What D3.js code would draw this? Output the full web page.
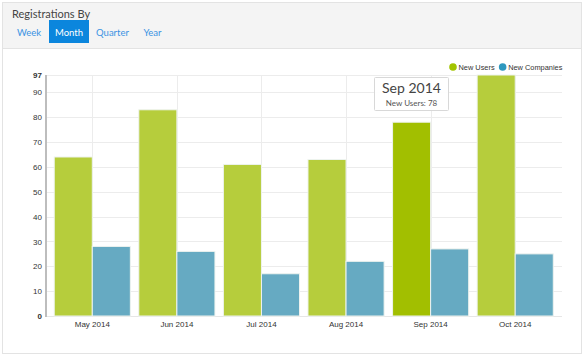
<!DOCTYPE html>
<html><head><meta charset="utf-8">
<script src="https://cdn.jsdelivr.net/npm/d3@7"></script>
<style>
html,body{margin:0;padding:0;background:#fff;}
svg{display:block;}
</style></head>
<body>
<svg id="c" width="585" height="357"></svg>
<script>
const months = ["May 2014","Jun 2014","Jul 2014","Aug 2014","Sep 2014","Oct 2014"];
const newUsers = [64, 83, 61, 63, 78, 97];
const newCompanies = [28, 26, 17, 22, 27, 25];
const yTicks = [0,10,20,30,40,50,60,70,80,90,97];
const seriesNames = ["New Users","New Companies"];
const tabs = ["Week","Month","Quarter","Year"];
const activeTab = "Month";
const hovered = "Sep 2014";

const svg = d3.select("#c");
// panel
svg.append("rect").attr("x",2.5).attr("y",2.5).attr("width",579).attr("height",351)
  .attr("fill","#fff").attr("stroke","#e3e3e3");
svg.append("rect").attr("x",3).attr("y",3).attr("width",578).attr("height",45).attr("fill","#f4f4f4");
svg.append("line").attr("x1",3).attr("x2",581).attr("y1",48.5).attr("y2",48.5).attr("stroke","#e3e3e3");
svg.append("text").attr("x",12).attr("y",18).text("Registrations By")
  .attr("font-family","Lato, 'Open Sans', sans-serif").attr("font-size",11).attr("fill","#444");

// tabs
const tabX = [{x:8,w:42},{x:49,w:40},{x:89,w:47},{x:136,w:33}];
tabs.forEach((t,i)=>{
  const g = svg.append("g");
  if(t===activeTab){
    g.append("rect").attr("x",tabX[i].x).attr("y",20).attr("width",tabX[i].w).attr("height",23).attr("fill","#0b86dd");
  }
  g.append("text").attr("x",tabX[i].x+tabX[i].w/2).attr("y",35.5).attr("text-anchor","middle")
    .attr("font-family","Lato, 'Open Sans', sans-serif").attr("font-size",9.5)
    .attr("fill", t===activeTab?"#fff":"#3b93e3").text(t);
});

// chart
const x0 = d3.scaleBand().domain(months).range([50,557.5]).paddingInner(0.1).paddingOuter(0.05);
const x1 = d3.scaleBand().domain(seriesNames).range([0,x0.bandwidth()]);
const y = d3.scaleLinear().domain([0,97]).range([316,75]);

const grid = svg.append("g");
grid.selectAll("line.h").data(yTicks.filter(d=>d>0)).join("line")
  .attr("x1",46).attr("x2",562).attr("y1",d=>Math.round(y(d))+0.5).attr("y2",d=>Math.round(y(d))+0.5)
  .attr("stroke","#ececec");
grid.selectAll("line.v").data(months).join("line")
  .attr("x1",d=>Math.round(x0(d)+x0.bandwidth()/2)+0.5).attr("x2",d=>Math.round(x0(d)+x0.bandwidth()/2)+0.5)
  .attr("y1",75).attr("y2",316).attr("stroke","#ececec");
svg.append("line").attr("x1",46).attr("x2",562).attr("y1",316.5).attr("y2",316.5).attr("stroke","#e6e6e6");

const rows = months.map((m,i)=>({m, vals:[newUsers[i], newCompanies[i]]}));
const colors = ["#b6cd3c","#66aac2"];
const g = svg.append("g");
rows.forEach(r=>{
  r.vals.forEach((v,j)=>{
    g.append("rect")
      .attr("x",x0(r.m)+x1(seriesNames[j]))
      .attr("y",y(v)).attr("width",x1.bandwidth()).attr("height",y(0)-y(v))
      .attr("fill", (j===0 && r.m===hovered) ? "#a2bf00" : colors[j])
      .attr("stroke","#eef3ef").attr("stroke-width",1);
  });
});

// y axis
svg.append("rect").attr("x",45).attr("y",75).attr("width",2).attr("height",242).attr("fill","#bdbdbd");
const yAxis = svg.append("g").attr("transform","translate(47,0)")
  .call(d3.axisLeft(y).tickValues(yTicks).tickSize(0).tickPadding(5));
yAxis.select(".domain").remove();
yAxis.selectAll("text").attr("font-family","Arial, 'Liberation Sans', sans-serif").attr("font-size",8)
  .attr("fill","#333").attr("font-weight",d=>(d===0||d===97)?"bold":"normal");

// x axis
const xAxis = svg.append("g").attr("transform","translate(0,317)")
  .call(d3.axisBottom(x0).tickSize(0).tickPadding(4));
xAxis.select(".domain").remove();
xAxis.selectAll("text").attr("font-family","Arial, 'Liberation Sans', sans-serif").attr("font-size",8)
  .attr("fill","#333");

// legend
const legendColors = ["#a2c400","#2e98bf"];
let lx = 453;
seriesNames.forEach((s,i)=>{
  svg.append("circle").attr("cx",lx).attr("cy",67).attr("r",3.8).attr("fill",legendColors[i]);
  const t = svg.append("text").attr("x",lx+5.5).attr("y",70).text(s)
    .attr("font-family","Arial, 'Liberation Sans', sans-serif").attr("font-size",7.4).attr("fill","#333");
  lx = lx + 5.5 + t.node().getComputedTextLength() + 8;
});

// tooltip
const hi = months.indexOf(hovered);
const tt = svg.append("g");
tt.append("rect").attr("x",374.5).attr("y",77.5).attr("width",74).attr("height",33)
  .attr("fill","rgba(255,255,255,0.95)").attr("stroke","#d8d8d8").attr("rx",1);
tt.append("text").attr("x",411.5).attr("y",93).attr("text-anchor","middle").text(hovered)
  .attr("font-family","Lato, 'Open Sans', sans-serif").attr("font-size",14).attr("fill","#444");
tt.append("text").attr("x",411.5).attr("y",106).attr("text-anchor","middle")
  .text(seriesNames[0]+": "+newUsers[hi])
  .attr("font-family","Lato, 'Open Sans', sans-serif").attr("font-size",8).attr("fill","#555");
</script>
</body></html>
